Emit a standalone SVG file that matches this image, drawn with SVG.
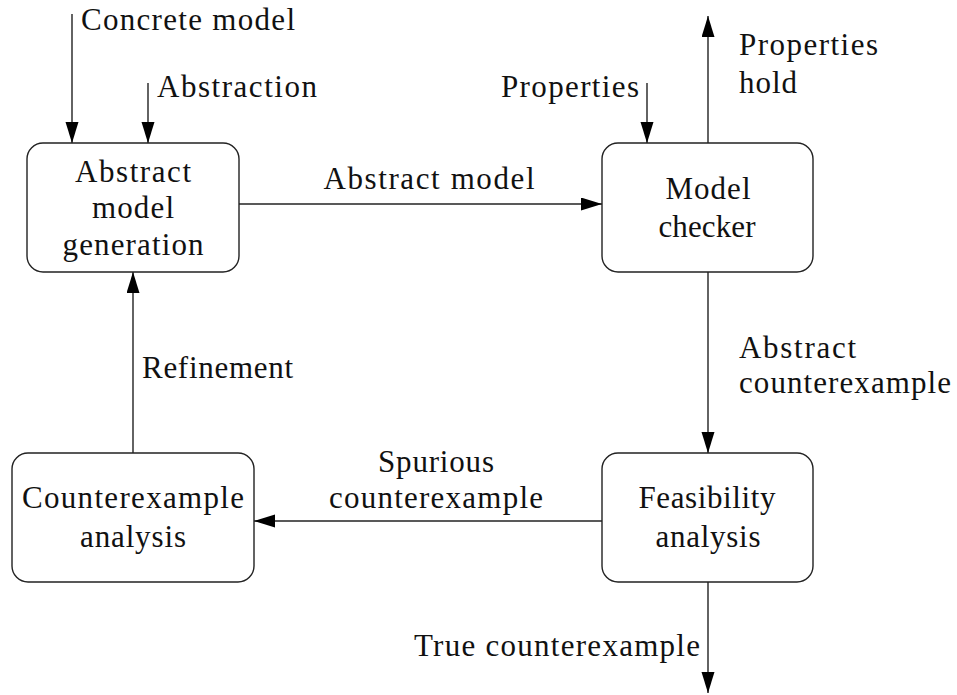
<svg xmlns="http://www.w3.org/2000/svg" width="957" height="695" viewBox="0 0 957 695">
<style>
text{font-family:"Liberation Serif","Times New Roman",serif;font-size:31px;fill:#111}
.c{text-anchor:middle}
.e{text-anchor:end}
.box{fill:#fff;stroke:#222;stroke-width:1.4}
.con line{stroke:#222;stroke-width:1.4;marker-end:url(#ah)}
</style>
<defs>
<marker id="ah" markerUnits="userSpaceOnUse" markerWidth="22" markerHeight="14" refX="21" refY="6.5" orient="auto">
<path d="M0,0 L21,6.5 L0,13 z" fill="#000"/>
</marker>
</defs>
<g id="connectors" class="con">
<line x1="72" y1="14" x2="72" y2="143"/>
<line x1="148" y1="83" x2="148" y2="143"/>
<line x1="647" y1="83" x2="647" y2="143"/>
<line x1="708" y1="143" x2="708" y2="16"/>
<line x1="239" y1="204" x2="602" y2="204"/>
<line x1="708" y1="272" x2="708" y2="453"/>
<line x1="602" y1="521" x2="254" y2="521"/>
<line x1="133" y1="453" x2="133" y2="272"/>
<line x1="708" y1="582" x2="708" y2="693"/>
</g>
<g id="labels">
<text x="81" y="30" textLength="214">Concrete model</text>
<text x="157" y="97" textLength="160">Abstraction</text>
<text x="639" y="97" class="e" textLength="138">Properties</text>
<text x="739" y="55" textLength="139">Properties</text>
<text x="739" y="93" textLength="58">hold</text>
<text x="429" y="189" class="c" textLength="211">Abstract model</text>
<text x="739" y="358" textLength="117">Abstract</text>
<text x="739" y="393" textLength="212">counterexample</text>
<text x="142" y="378" textLength="151">Refinement</text>
<text x="436" y="472" class="c" textLength="116">Spurious</text>
<text x="436" y="508" class="c" textLength="214">counterexample</text>
<text x="700" y="656" class="e" textLength="286">True counterexample</text>
</g>
<g id="abstract-model-generation">
<rect class="box" x="27" y="143" width="212" height="129" rx="16"/>
<text x="133" y="182" class="c" textLength="116">Abstract</text>
<text x="133" y="218" class="c" textLength="82">model</text>
<text x="133" y="255" class="c" textLength="141">generation</text>
</g>
<g id="model-checker">
<rect class="box" x="602" y="143" width="211" height="129" rx="16"/>
<text x="708" y="199" class="c" textLength="85">Model</text>
<text x="707" y="237" class="c" textLength="97">checker</text>
</g>
<g id="counterexample-analysis">
<rect class="box" x="12" y="453" width="242" height="129" rx="16"/>
<text x="133" y="508" class="c" textLength="222">Counterexample</text>
<text x="133" y="547" class="c" textLength="106">analysis</text>
</g>
<g id="feasibility-analysis">
<rect class="box" x="602" y="453" width="211" height="129" rx="16"/>
<text x="707" y="508" class="c" textLength="137">Feasibility</text>
<text x="708" y="547" class="c" textLength="105">analysis</text>
</g>
</svg>
